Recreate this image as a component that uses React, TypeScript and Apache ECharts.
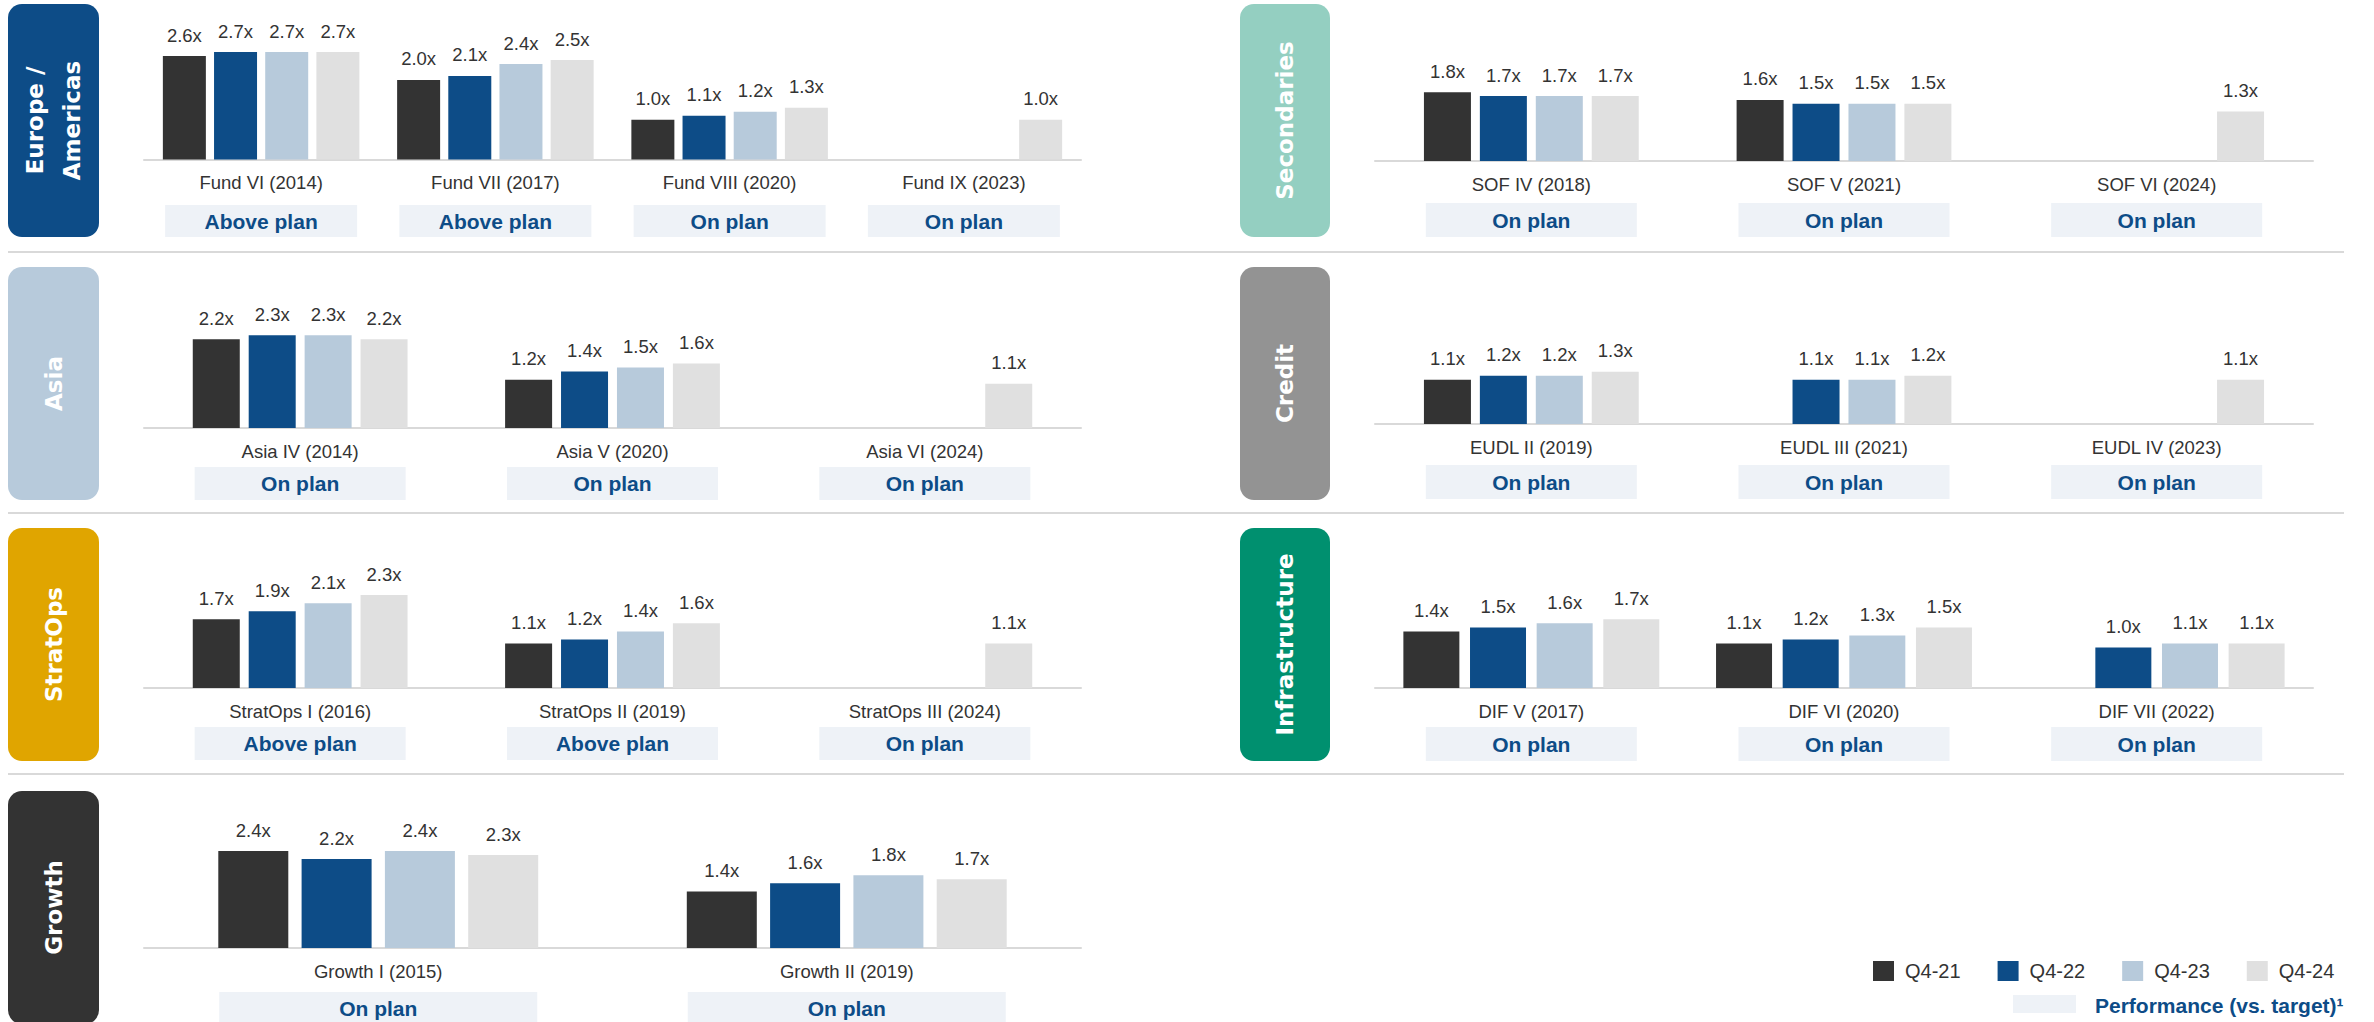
import React, { useEffect, useRef } from 'react';
import * as echarts from 'echarts';

// ---------- DATA ----------
const SERIES_NAMES = ['Q4-21', 'Q4-22', 'Q4-23', 'Q4-24'];
const SERIES_COLORS = ['#333333', '#0d4c87', '#b7cadb', '#e0e0e0'];

// Europe / Americas
const euFunds = ['Fund VI (2014)', 'Fund VII (2017)', 'Fund VIII (2020)', 'Fund IX (2023)'];
const euQ421 = [2.6, 2.0, 1.0, null];
const euQ422 = [2.7, 2.1, 1.1, null];
const euQ423 = [2.7, 2.4, 1.2, null];
const euQ424 = [2.7, 2.5, 1.3, 1.0];
const euPerf = ['Above plan', 'Above plan', 'On plan', 'On plan'];

// Asia
const asiaFunds = ['Asia IV (2014)', 'Asia V (2020)', 'Asia VI (2024)'];
const asiaQ421 = [2.2, 1.2, null];
const asiaQ422 = [2.3, 1.4, null];
const asiaQ423 = [2.3, 1.5, null];
const asiaQ424 = [2.2, 1.6, 1.1];
const asiaPerf = ['On plan', 'On plan', 'On plan'];

// StratOps
const soFunds = ['StratOps I (2016)', 'StratOps II (2019)', 'StratOps III (2024)'];
const soQ421 = [1.7, 1.1, null];
const soQ422 = [1.9, 1.2, null];
const soQ423 = [2.1, 1.4, null];
const soQ424 = [2.3, 1.6, 1.1];
const soPerf = ['Above plan', 'Above plan', 'On plan'];

// Growth
const grFunds = ['Growth I (2015)', 'Growth II (2019)'];
const grQ421 = [2.4, 1.4];
const grQ422 = [2.2, 1.6];
const grQ423 = [2.4, 1.8];
const grQ424 = [2.3, 1.7];
const grPerf = ['On plan', 'On plan'];

// Secondaries
const secFunds = ['SOF IV (2018)', 'SOF V (2021)', 'SOF VI (2024)'];
const secQ421 = [1.8, 1.6, null];
const secQ422 = [1.7, 1.5, null];
const secQ423 = [1.7, 1.5, null];
const secQ424 = [1.7, 1.5, 1.3];
const secPerf = ['On plan', 'On plan', 'On plan'];

// Credit
const crFunds = ['EUDL II (2019)', 'EUDL III (2021)', 'EUDL IV (2023)'];
const crQ421 = [1.1, null, null];
const crQ422 = [1.2, 1.1, null];
const crQ423 = [1.2, 1.1, null];
const crQ424 = [1.3, 1.2, 1.1];
const crPerf = ['On plan', 'On plan', 'On plan'];

// Infrastructure
const infFunds = ['DIF V (2017)', 'DIF VI (2020)', 'DIF VII (2022)'];
const infQ421 = [1.4, 1.1, null];
const infQ422 = [1.5, 1.2, 1.0];
const infQ423 = [1.6, 1.3, 1.1];
const infQ424 = [1.7, 1.5, 1.1];
const infPerf = ['On plan', 'On plan', 'On plan'];

// ---------- LAYOUT ----------
const FONT = '"Liberation Sans", Arial, sans-serif';
const BADGE_FONT = '"DejaVu Sans", Verdana, sans-serif';
const PERF_BG = '#eef2f7';
const PERF_COLOR = '#0d4c87';
const LINE_COLOR = '#d9d9d9';

const LEFT = { axisLeft: 144, axisWidth: 937, badgeX: 8, badgeW: 91 };
const RIGHT = { axisLeft: 1375, axisWidth: 938, badgeX: 1240, badgeW: 90 };

const PANELS = [
  { ...LEFT, title: 'Europe /\nAmericas', color: '#0d4c87', funds: euFunds, values: [euQ421, euQ422, euQ423, euQ424], perf: euPerf,
    badgeY: 4, baseline: 159.5, ppu: 42.4, barWidth: 43, perfTop: 205, perfH: 32, perfW: 192 },
  { ...LEFT, title: 'Asia', color: '#b7cadb', funds: asiaFunds, values: [asiaQ421, asiaQ422, asiaQ423, asiaQ424], perf: asiaPerf,
    badgeY: 267, baseline: 428, ppu: 40.3, barWidth: 47, perfTop: 467, perfH: 33, perfW: 211 },
  { ...LEFT, title: 'StratOps', color: '#e0a500', funds: soFunds, values: [soQ421, soQ422, soQ423, soQ424], perf: soPerf,
    badgeY: 528, baseline: 688, ppu: 40.4, barWidth: 47, perfTop: 727, perfH: 33, perfW: 211 },
  { ...LEFT, title: 'Growth', color: '#333333', funds: grFunds, values: [grQ421, grQ422, grQ423, grQ424], perf: grPerf,
    badgeY: 791, baseline: 948, ppu: 40.4, barWidth: 70, perfTop: 992, perfH: 33, perfW: 318 },
  { ...RIGHT, title: 'Secondaries', color: '#94cfc1', funds: secFunds, values: [secQ421, secQ422, secQ423, secQ424], perf: secPerf,
    badgeY: 4, baseline: 161, ppu: 40.3, barWidth: 47, perfTop: 203, perfH: 34, perfW: 211 },
  { ...RIGHT, title: 'Credit', color: '#939393', funds: crFunds, values: [crQ421, crQ422, crQ423, crQ424], perf: crPerf,
    badgeY: 267, baseline: 424, ppu: 40.2, barWidth: 47, perfTop: 465, perfH: 34, perfW: 211 },
  { ...RIGHT, title: 'Infrastructure', color: '#00906f', funds: infFunds, values: [infQ421, infQ422, infQ423, infQ424], perf: infPerf,
    badgeY: 528, baseline: 688, ppu: 40.4, barWidth: 56, perfTop: 727, perfH: 34, perfW: 211 },
];

const DIVIDERS_Y = [252, 513, 774];
const BADGE_H = 233;
const GRID_H = 170;

export default function App() {
  const ref = useRef<HTMLDivElement>(null);

  useEffect(() => {
    const chart = echarts.init(ref.current as HTMLDivElement, null, { renderer: 'svg' });
    const grids: any[] = [];
    const xAxes: any[] = [];
    const yAxes: any[] = [];
    const series: any[] = [];

    PANELS.forEach((p, i) => {
      grids.push({ left: p.axisLeft, width: p.axisWidth, top: p.baseline - GRID_H, height: GRID_H });
      xAxes.push({
        type: 'category',
        gridIndex: i,
        data: p.funds,
        axisLine: { show: true, lineStyle: { color: LINE_COLOR, width: 2 } },
        axisTick: { show: false },
        splitLine: { show: false },
        axisLabel: {
          show: true,
          interval: 0,
          margin: 13,
          fontSize: 18.5,
          lineHeight: 20,
          color: '#333333',
          fontFamily: FONT,
        },
      });
      yAxes.push({ type: 'value', gridIndex: i, min: 0, max: GRID_H / p.ppu, show: false, splitLine: { show: false } });
      p.values.forEach((vals, k) => {
        series.push({
          type: 'bar',
          name: SERIES_NAMES[k],
          xAxisIndex: i,
          yAxisIndex: i,
          data: vals.map((v) => (v == null ? '-' : v)),
          barWidth: p.barWidth,
          barGap: '19%',
          itemStyle: { color: SERIES_COLORS[k] },
          label: {
            show: true,
            position: 'top',
            distance: 11,
            fontSize: 18.5,
            lineHeight: 20,
            color: '#333333',
            fontFamily: FONT,
            formatter: (pr: any) => (typeof pr.value === 'number' ? pr.value.toFixed(1) + 'x' : ''),
          },
        });
      });
    });

    chart.setOption({
      animation: false,
      backgroundColor: '#ffffff',
      grid: grids,
      xAxis: xAxes,
      yAxis: yAxes,
      series,
      legend: {
        data: SERIES_NAMES,
        left: 1868,
        top: 956,
        icon: 'rect',
        itemWidth: 21,
        itemHeight: 20,
        itemGap: 37,
        selectedMode: false,
        itemStyle: { borderWidth: 0 },
        textStyle: { fontSize: 20, color: '#333333', fontFamily: FONT, padding: [0, 0, 0, 6] },
      },
    });

    const graphics: any[] = [];
    DIVIDERS_Y.forEach((y) => {
      graphics.push({
        type: 'line',
        shape: { x1: 8, y1: y, x2: 2344, y2: y },
        style: { stroke: LINE_COLOR, lineWidth: 2 },
        silent: true,
      });
    });

    PANELS.forEach((p, i) => {
      graphics.push({
        type: 'rect',
        shape: { x: p.badgeX, y: p.badgeY, width: p.badgeW, height: BADGE_H, r: 14 },
        style: { fill: p.color },
        silent: true,
      });
      graphics.push({
        type: 'text',
        x: p.badgeX + p.badgeW / 2,
        y: p.badgeY + BADGE_H / 2,
        rotation: Math.PI / 2,
        silent: true,
        style: {
          text: p.title,
          fill: '#ffffff',
          fontSize: 23,
          fontWeight: 'bold',
          fontFamily: BADGE_FONT,
          lineHeight: 37,
          align: 'center',
          verticalAlign: 'middle',
          textAlign: 'center',
          textVerticalAlign: 'middle',
        },
      });
      p.funds.forEach((_f, j) => {
        const cx = chart.convertToPixel({ xAxisIndex: i } as any, j) as unknown as number;
        graphics.push({
          type: 'rect',
          shape: { x: cx - p.perfW / 2, y: p.perfTop, width: p.perfW, height: p.perfH },
          style: { fill: PERF_BG },
          silent: true,
        });
        graphics.push({
          type: 'text',
          x: cx,
          y: p.perfTop + p.perfH / 2,
          silent: true,
          style: {
            text: p.perf[j],
            fill: PERF_COLOR,
            fontSize: 21,
            fontWeight: 'bold',
            fontFamily: FONT,
            align: 'center',
            verticalAlign: 'middle',
            textAlign: 'center',
            textVerticalAlign: 'middle',
          },
        });
      });
    });

    // Performance legend
    graphics.push({
      type: 'rect',
      shape: { x: 2013, y: 995, width: 63, height: 18 },
      style: { fill: PERF_BG },
      silent: true,
    });
    graphics.push({
      type: 'text',
      x: 2095,
      y: 1005,
      silent: true,
      style: {
        text: 'Performance (vs. target)¹',
        fill: PERF_COLOR,
        fontSize: 21,
        fontWeight: 'bold',
        fontFamily: FONT,
        align: 'left',
        verticalAlign: 'middle',
        textAlign: 'left',
        textVerticalAlign: 'middle',
      },
    });

    chart.setOption({ graphic: { elements: graphics } });

    return () => chart.dispose();
  }, []);

  return (
    <div
      ref={ref}
      style={{ position: 'absolute', left: 0, top: 0, width: 2374, height: 1022, background: '#ffffff' }}
    />
  );
}
